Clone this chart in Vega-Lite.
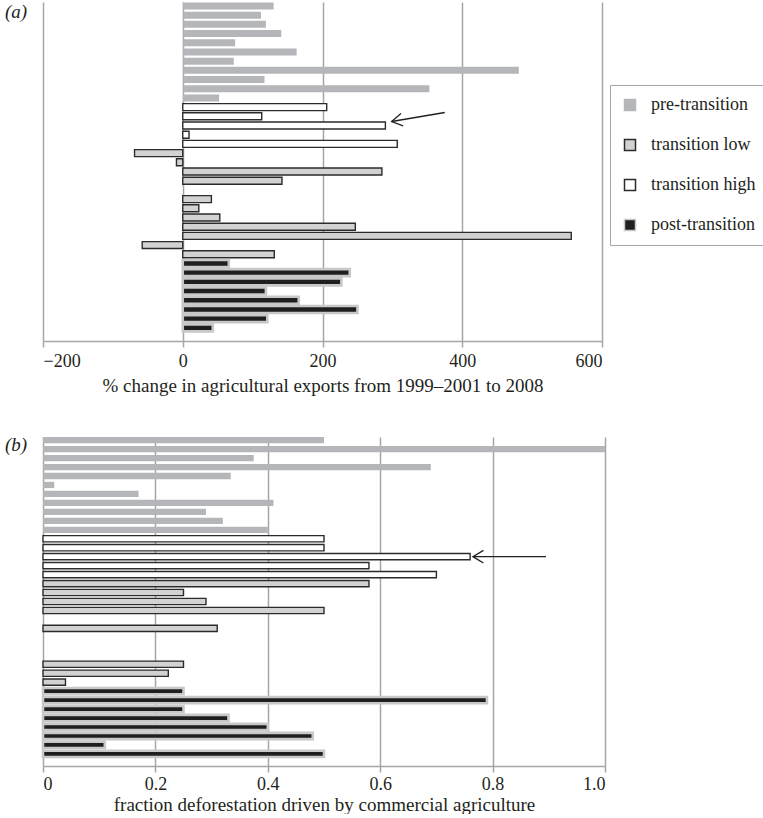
{
  "$schema": "https://vega.github.io/schema/vega-lite/v6.json",
  "padding": {"left": 5, "top": 2, "right": 0, "bottom": 0},
  "background": "white",
  "config": {
    "view": {"stroke": null},
    "font": "Liberation Serif",
    "axis": {
      "labelFont": "Liberation Serif",
      "titleFont": "Liberation Serif",
      "labelFontSize": 18,
      "titleFontSize": 19,
      "titleFontWeight": "normal",
      "labelColor": "#231f20",
      "titleColor": "#231f20",
      "gridColor": "#a6a6a6",
      "gridWidth": 1.5,
      "domainColor": "#a6a6a6",
      "domainWidth": 1.5,
      "tickColor": "#a6a6a6",
      "tickWidth": 1.5,
      "tickSize": 6,
      "labelPadding": 5,
      "titlePadding": 6
    },
    "title": {"font": "Liberation Serif", "fontSize": 19, "fontWeight": "normal", "color": "#231f20"}
  },
  "datasets": {
    "countries": [
      {"id": "c01", "group": "pre-transition", "exports": 130, "defor": 0.50},
      {"id": "c02", "group": "pre-transition", "exports": 112, "defor": 1.0},
      {"id": "c03", "group": "pre-transition", "exports": 119, "defor": 0.375},
      {"id": "c04", "group": "pre-transition", "exports": 141, "defor": 0.69},
      {"id": "c05", "group": "pre-transition", "exports": 75, "defor": 0.334},
      {"id": "c06", "group": "pre-transition", "exports": 163, "defor": 0.02},
      {"id": "c07", "group": "pre-transition", "exports": 73, "defor": 0.17},
      {"id": "c08", "group": "pre-transition", "exports": 481, "defor": 0.41},
      {"id": "c09", "group": "pre-transition", "exports": 117, "defor": 0.29},
      {"id": "c10", "group": "pre-transition", "exports": 353, "defor": 0.32},
      {"id": "c11", "group": "pre-transition", "exports": 52, "defor": 0.40},
      {"id": "c12", "group": "transition high", "exports": 206, "defor": 0.50},
      {"id": "c13", "group": "transition high", "exports": 113, "defor": 0.50},
      {"id": "c14", "group": "transition high", "exports": 290, "defor": 0.76},
      {"id": "c15", "group": "transition high", "exports": 9, "defor": 0.58},
      {"id": "c16", "group": "transition high", "exports": 307, "defor": 0.70},
      {"id": "c17", "group": "transition low", "exports": -69, "defor": 0.58},
      {"id": "c18", "group": "transition low", "exports": -9, "defor": 0.25},
      {"id": "c19", "group": "transition low", "exports": 285, "defor": 0.29},
      {"id": "c20", "group": "transition low", "exports": 142, "defor": 0.50},
      {"id": "c22", "group": "transition low", "exports": 41, "defor": 0.31},
      {"id": "c23", "group": "transition low", "exports": 23, "defor": null},
      {"id": "c24", "group": "transition low", "exports": 53, "defor": null},
      {"id": "c25", "group": "transition low", "exports": 247, "defor": null},
      {"id": "c26", "group": "transition low", "exports": 556, "defor": 0.25},
      {"id": "c27", "group": "transition low", "exports": -58, "defor": 0.223},
      {"id": "c28", "group": "transition low", "exports": 131, "defor": 0.04},
      {"id": "c29", "group": "post-transition", "exports": 66, "defor": 0.25},
      {"id": "c30", "group": "post-transition", "exports": 239, "defor": 0.79},
      {"id": "c31", "group": "post-transition", "exports": 227, "defor": 0.25},
      {"id": "c32", "group": "post-transition", "exports": 119, "defor": 0.33},
      {"id": "c33", "group": "post-transition", "exports": 166, "defor": 0.40},
      {"id": "c34", "group": "post-transition", "exports": 250, "defor": 0.48},
      {"id": "c35", "group": "post-transition", "exports": 121, "defor": 0.11},
      {"id": "c36", "group": "post-transition", "exports": 43, "defor": 0.50}
    ],
    "arrowA": [{"id": "c14", "tip": 299, "tail": 375}],
    "arrowB": [{"id": "c14", "tip": 0.765, "tail": 0.895}]
  },
  "vconcat": [
    {
      "width": 559,
      "height": 339,
      "title": {"text": "(a)", "anchor": "start", "frame": "group", "dx": -38, "offset": -20, "fontStyle": "italic"},
      "layer": [
        {
          "data": {"name": "countries"},
          "mark": {"type": "bar"},
          "encoding": {
            "y": {"field": "id", "type": "nominal", "axis": null,
                  "scale": {"domain": ["c01","c02","c03","c04","c05","c06","c07","c08","c09","c10","c11","c12","c13","c14","c15","c16","c17","c18","c19","c20","c21","c22","c23","c24","c25","c26","c27","c28","c29","c30","c31","c32","c33","c34","c35","c36","c37"], "paddingInner": 0.24, "paddingOuter": 0.05}},
            "x": {"field": "exports", "type": "quantitative",
                  "scale": {"domain": [-200, 600], "nice": false},
                  "axis": {"values": [-200, 0, 200, 400, 600], "grid": true, "title": "% change in agricultural exports from 1999–2001 to 2008"}},
            "fill": {"field": "group", "type": "nominal",
                     "scale": {"domain": ["pre-transition", "transition low", "transition high", "post-transition"], "range": ["#b5b6b9", "#d2d2d2", "#ffffff", "#1f1f1f"]},
                     "legend": {"title": null, "orient": "none", "legendX": 567, "legendY": 83, "symbolType": "square", "symbolSize": 121, "symbolStrokeWidth": 1.5, "labelFont": "Liberation Serif", "labelFontSize": 18, "labelColor": "#231f20", "labelOffset": 12, "rowPadding": 22, "padding": 11, "strokeColor": "#a6a6a6", "fillColor": "white"}},
            "stroke": {"field": "group", "type": "nominal",
                       "scale": {"domain": ["pre-transition", "transition low", "transition high", "post-transition"], "range": ["#b5b6b9", "#2b2b2b", "#2b2b2b", "#c8c8c8"]},
                       "legend": {"title": null, "orient": "none", "legendX": 567, "legendY": 83, "symbolType": "square", "symbolSize": 121, "symbolStrokeWidth": 1.5, "labelFont": "Liberation Serif", "labelFontSize": 18, "labelColor": "#231f20", "labelOffset": 12, "rowPadding": 22, "padding": 11, "strokeColor": "#a6a6a6", "fillColor": "white"}},
            "strokeWidth": {"condition": [{"test": "datum.group === 'post-transition'", "value": 2.6}, {"test": "datum.group === 'pre-transition'", "value": 0}], "value": 1.4}
          }
        },
        {
          "data": {"name": "arrowA"},
          "mark": {"type": "rule", "color": "#231f20", "strokeWidth": 1.3, "yOffset": -4, "y2Offset": -13},
          "encoding": {
            "y": {"field": "id", "type": "nominal"},
            "y2": {"field": "id"},
            "x": {"field": "tip", "type": "quantitative"},
            "x2": {"field": "tail"}
          }
        },
        {
          "data": {"name": "arrowA"},
          "mark": {"type": "point", "shape": "M1,-0.6L0,0L1,0.6", "filled": false, "stroke": "#231f20", "strokeWidth": 1.3, "size": 441, "angle": -10, "yOffset": -4, "opacity": 1},
          "encoding": {
            "y": {"field": "id", "type": "nominal"},
            "x": {"field": "tip", "type": "quantitative"}
          }
        }
      ]
    },
    {
      "width": 562,
      "height": 329,
      "title": {"text": "(b)", "anchor": "start", "frame": "group", "dx": -38, "offset": -18, "fontStyle": "italic"},
      "layer": [
        {
          "data": {"name": "countries"},
          "mark": {"type": "bar"},
          "encoding": {
            "y": {"field": "id", "type": "nominal", "axis": null,
                  "scale": {"domain": ["c01","c02","c03","c04","c05","c06","c07","c08","c09","c10","c11","c12","c13","c14","c15","c16","c17","c18","c19","c20","c21","c22","c23","c24","c25","c26","c27","c28","c29","c30","c31","c32","c33","c34","c35","c36","c37"], "paddingInner": 0.3, "paddingOuter": 0.0}},
            "x": {"field": "defor", "type": "quantitative",
                  "scale": {"domain": [0, 1], "nice": false},
                  "axis": {"values": [0, 0.2, 0.4, 0.6, 0.8, 1.0], "grid": true, "labelPadding": 3, "titlePadding": 2, "labelExpr": "datum.value == 0 ? '0' : format(datum.value, '.1f')", "title": "fraction deforestation driven by commercial agriculture"}},
            "fill": {"field": "group", "type": "nominal",
                     "scale": {"domain": ["pre-transition", "transition low", "transition high", "post-transition"], "range": ["#b5b6b9", "#d2d2d2", "#ffffff", "#1f1f1f"]},
                     "legend": null},
            "stroke": {"field": "group", "type": "nominal",
                       "scale": {"domain": ["pre-transition", "transition low", "transition high", "post-transition"], "range": ["#b5b6b9", "#2b2b2b", "#2b2b2b", "#c8c8c8"]},
                       "legend": null},
            "strokeWidth": {"condition": [{"test": "datum.group === 'post-transition'", "value": 2.6}, {"test": "datum.group === 'pre-transition'", "value": 0}], "value": 1.4}
          }
        },
        {
          "data": {"name": "arrowB"},
          "mark": {"type": "rule", "color": "#231f20", "strokeWidth": 1.3},
          "encoding": {
            "y": {"field": "id", "type": "nominal"},
            "x": {"field": "tip", "type": "quantitative"},
            "x2": {"field": "tail"}
          }
        },
        {
          "data": {"name": "arrowB"},
          "mark": {"type": "point", "shape": "M1,-0.6L0,0L1,0.6", "filled": false, "stroke": "#231f20", "strokeWidth": 1.3, "size": 441, "opacity": 1},
          "encoding": {
            "y": {"field": "id", "type": "nominal"},
            "x": {"field": "tip", "type": "quantitative"}
          }
        }
      ]
    }
  ],
  "spacing": 41,
  "resolve": {"scale": {"fill": "independent", "stroke": "independent", "x": "independent", "y": "independent"}}
}
